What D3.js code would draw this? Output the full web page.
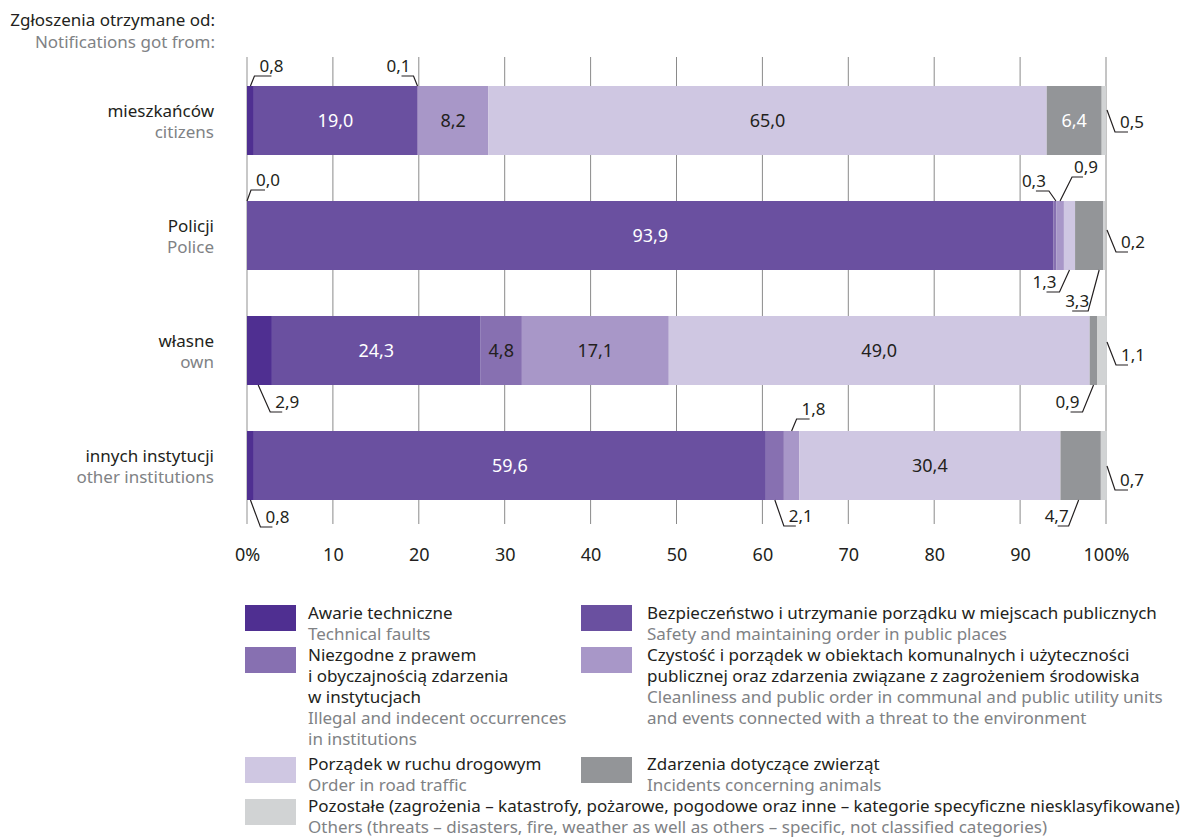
<!DOCTYPE html>
<html>
<head>
<meta charset="utf-8">
<script src="https://cdn.jsdelivr.net/npm/d3@7"></script>
<style>
  html, body { margin: 0; padding: 0; background: #fff; }
  svg { display: block; font-family: "Noto Sans", "Open Sans", sans-serif; }
</style>
</head>
<body>
<svg id="chart" width="1187" height="838"></svg>
<script>
// ---------------- DATA ----------------
const headerPL = "Zgłoszenia otrzymane od:";
const headerEN = "Notifications got from:";

const rowsPL = ["mieszkańców", "Policji", "własne", "innych instytucji"];
const rowsEN = ["citizens", "Police", "own", "other institutions"];

const seriesPL = [
  ["Awarie techniczne"],
  ["Bezpieczeństwo i utrzymanie porządku w miejscach publicznych"],
  ["Niezgodne z prawem", "i obyczajnością zdarzenia", "w instytucjach"],
  ["Czystość i porządek w obiektach komunalnych i użyteczności", "publicznej oraz zdarzenia związane z zagrożeniem środowiska"],
  ["Porządek w ruchu drogowym"],
  ["Zdarzenia dotyczące zwierząt"],
  ["Pozostałe (zagrożenia – katastrofy, pożarowe, pogodowe oraz inne – kategorie specyficzne niesklasyfikowane)"]
];
const seriesEN = [
  ["Technical faults"],
  ["Safety and maintaining order in public places"],
  ["Illegal and indecent occurrences", "in institutions"],
  ["Cleanliness and public order in communal and public utility units", "and events connected with a threat to the environment"],
  ["Order in road traffic"],
  ["Incidents concerning animals"],
  ["Others (threats – disasters, fire, weather as well as others – specific, not classified categories)"]
];

// values per row, in series order
const valsCitizens = [0.8, 19.0, 0.1, 8.2, 65.0, 6.4, 0.5];
const valsPolice   = [0.0, 93.9, 0.3, 0.9, 1.3, 3.3, 0.2];
const valsOwn      = [2.9, 24.3, 4.8, 17.1, 49.0, 0.9, 1.1];
const valsOther    = [0.8, 59.6, 2.1, 1.8, 30.4, 4.7, 0.7];
const rowValues = [valsCitizens, valsPolice, valsOwn, valsOther];

const xTicks = [0, 10, 20, 30, 40, 50, 60, 70, 80, 90, 100];

// ---------------- STYLE / LAYOUT ----------------
const colors = ["#4f2f91", "#6a50a0", "#8770b1", "#a897c8", "#cfc7e2", "#939598", "#d1d3d4"];
const whiteText = [true, true, false, false, false, true, false];
const insideMin = 4.8;

// callout leader layout: row, series, side, anchor fraction, elbow offset, horizontal length
const callouts = [
  {r:0, s:0, side:"top", f:0.5, dx:4, dy:-10, h:17},
  {r:0, s:2, side:"top", f:0.5, dx:-4, dy:-10, h:-12},
  {r:0, s:6, side:"right", ay:24, dx:8, dy:22, h:13},
  {r:1, s:0, side:"top", f:0.5, dx:4, dy:-11, h:14},
  {r:1, s:2, side:"top", f:0.9, dx:-7, dy:-10, h:-13},
  {r:1, s:3, side:"top", f:0.5, dx:12, dy:-24, h:11, tx:-3},
  {r:1, s:6, side:"right", ay:29, dx:9, dy:22, h:12},
  {r:1, s:4, side:"bottom", f:0.5, dx:-10, dy:22, h:-13},
  {r:1, s:5, side:"bottom", f:0.85, dx:-11, dy:41, h:-16, tx:4},
  {r:2, s:0, side:"bottom", f:0.45, dx:12, dy:27, h:12},
  {r:2, s:5, side:"bottom", f:0.5, dx:-11, dy:27, h:-12},
  {r:2, s:6, side:"right", ay:26, dx:9, dy:23, h:12},
  {r:3, s:0, side:"bottom", f:0.5, dx:10, dy:27, h:12},
  {r:3, s:2, side:"bottom", f:0.5, dx:9, dy:26, h:12},
  {r:3, s:3, side:"top", f:0.5, dx:5, dy:-12, h:13},
  {r:3, s:5, side:"bottom", f:0.45, dx:-10, dy:26, h:-11, tx:3},
  {r:3, s:6, side:"right", ay:35, dx:8, dy:24, h:13}
];

const legendLayout = [
  {x:245, y:605}, {x:581, y:605},
  {x:245, y:647}, {x:581, y:647},
  {x:245, y:756}, {x:581, y:756},
  {x:245, y:798}
];

const DARK = "#231f20", GREY = "#808285";
const FS = 17;

// ---------------- DRAW ----------------
const svg = d3.select("#chart");
const fmt = v => d3.format(".1f")(v).replace(".", ",");

const x = d3.scaleLinear().domain([0, 100]).range([247, 1106]);
const y = d3.scaleBand().domain(d3.range(rowsPL.length)).range([63, 523])
  .paddingInner(0.4).paddingOuter(0.2);

// header
svg.append("text").attr("x", 215).attr("y", 26).attr("text-anchor", "end")
  .attr("font-size", FS).attr("fill", DARK).text(headerPL);
svg.append("text").attr("x", 215).attr("y", 48).attr("text-anchor", "end")
  .attr("font-size", FS).attr("fill", GREY).text(headerEN);

// gridlines
svg.append("g").selectAll("line").data(xTicks).join("line")
  .attr("x1", d => x(d)).attr("x2", d => x(d))
  .attr("y1", 57).attr("y2", 524)
  .attr("stroke", d => d === 0 ? "#c8c8c8" : "#8a8a8a")
  .attr("stroke-width", d => d === 0 ? 2 : 1);

// stacked segments
const segs = [];
rowValues.forEach((vals, r) => {
  let acc = 0;
  vals.forEach((v, s) => { segs.push({r, s, v, x0: acc, x1: acc + v}); acc += v; });
});

svg.append("g").selectAll("rect").data(segs).join("rect")
  .attr("x", d => x(d.x0)).attr("width", d => Math.max(0, x(d.x1) - x(d.x0)))
  .attr("y", d => y(d.r)).attr("height", y.bandwidth())
  .attr("fill", d => colors[d.s]);

// inside labels
svg.append("g").selectAll("text").data(segs.filter(d => d.v >= insideMin)).join("text")
  .attr("x", d => x((d.x0 + d.x1) / 2)).attr("y", d => y(d.r) + y.bandwidth() / 2 + 6)
  .attr("text-anchor", "middle").attr("font-size", 18)
  .attr("fill", d => whiteText[d.s] ? "#ffffff" : DARK)
  .text(d => fmt(d.v));

// callouts
const cg = svg.append("g");
callouts.forEach(c => {
  const seg = segs.find(d => d.r === c.r && d.s === c.s);
  let ax, ay;
  if (c.side === "right") { ax = x(100) + 1; ay = y(c.r) + c.ay; }
  else {
    ax = x(seg.x0 + (seg.x1 - seg.x0) * c.f);
    ay = c.side === "top" ? y(c.r) : y(c.r) + y.bandwidth();
  }
  const ex = ax + c.dx, ey = ay + c.dy, hx = ex + c.h;
  cg.append("path")
    .attr("d", `M${ax},${ay}L${ex},${ey}L${hx},${ey}`)
    .attr("fill", "none").attr("stroke", DARK).attr("stroke-width", 1.2);
  const right = c.h > 0;
  cg.append("text")
    .attr("x", (right ? ex + 5 : ex - 3) + (c.tx || 0))
    .attr("y", ey - 4)
    .attr("text-anchor", right ? "start" : "end")
    .attr("font-size", FS).attr("fill", DARK)
    .text(fmt(seg.v));
});

// row labels
const rl = svg.append("g");
rowsPL.forEach((p, i) => {
  const cy = y(i) + y.bandwidth() / 2;
  rl.append("text").attr("x", 214).attr("y", cy - 4).attr("text-anchor", "end")
    .attr("font-size", FS).attr("fill", DARK).text(p);
  rl.append("text").attr("x", 214).attr("y", cy + 17).attr("text-anchor", "end")
    .attr("font-size", FS).attr("fill", GREY).text(rowsEN[i]);
});

// x axis
const ax = svg.append("g").attr("transform", "translate(0,545)")
  .call(d3.axisBottom(x).tickValues(xTicks).tickSize(0)
    .tickFormat(d => (d === 0 || d === 100) ? d + "%" : d));
ax.select(".domain").remove();
ax.selectAll("text").attr("font-size", 18).attr("fill", DARK)
  .attr("font-family", "\"Noto Sans\", sans-serif").attr("dy", "0.71em").attr("y", 3);

// legend
const lg = svg.append("g");
seriesPL.forEach((pl, i) => {
  const L = legendLayout[i];
  lg.append("rect").attr("x", L.x).attr("y", L.y + (i >= 4 ? 1 : 0)).attr("width", 51).attr("height", 26)
    .attr("fill", colors[i]);
  const tx = L.x + (L.x < 400 ? 63 : 66);
  let ly = L.y + 14;
  pl.forEach(line => {
    lg.append("text").attr("x", tx).attr("y", ly).attr("font-size", FS)
      .attr("fill", DARK).text(line);
    ly += 21;
  });
  seriesEN[i].forEach(line => {
    lg.append("text").attr("x", tx).attr("y", ly).attr("font-size", FS)
      .attr("fill", GREY).text(line);
    ly += 21;
  });
});
</script>
</body>
</html>
